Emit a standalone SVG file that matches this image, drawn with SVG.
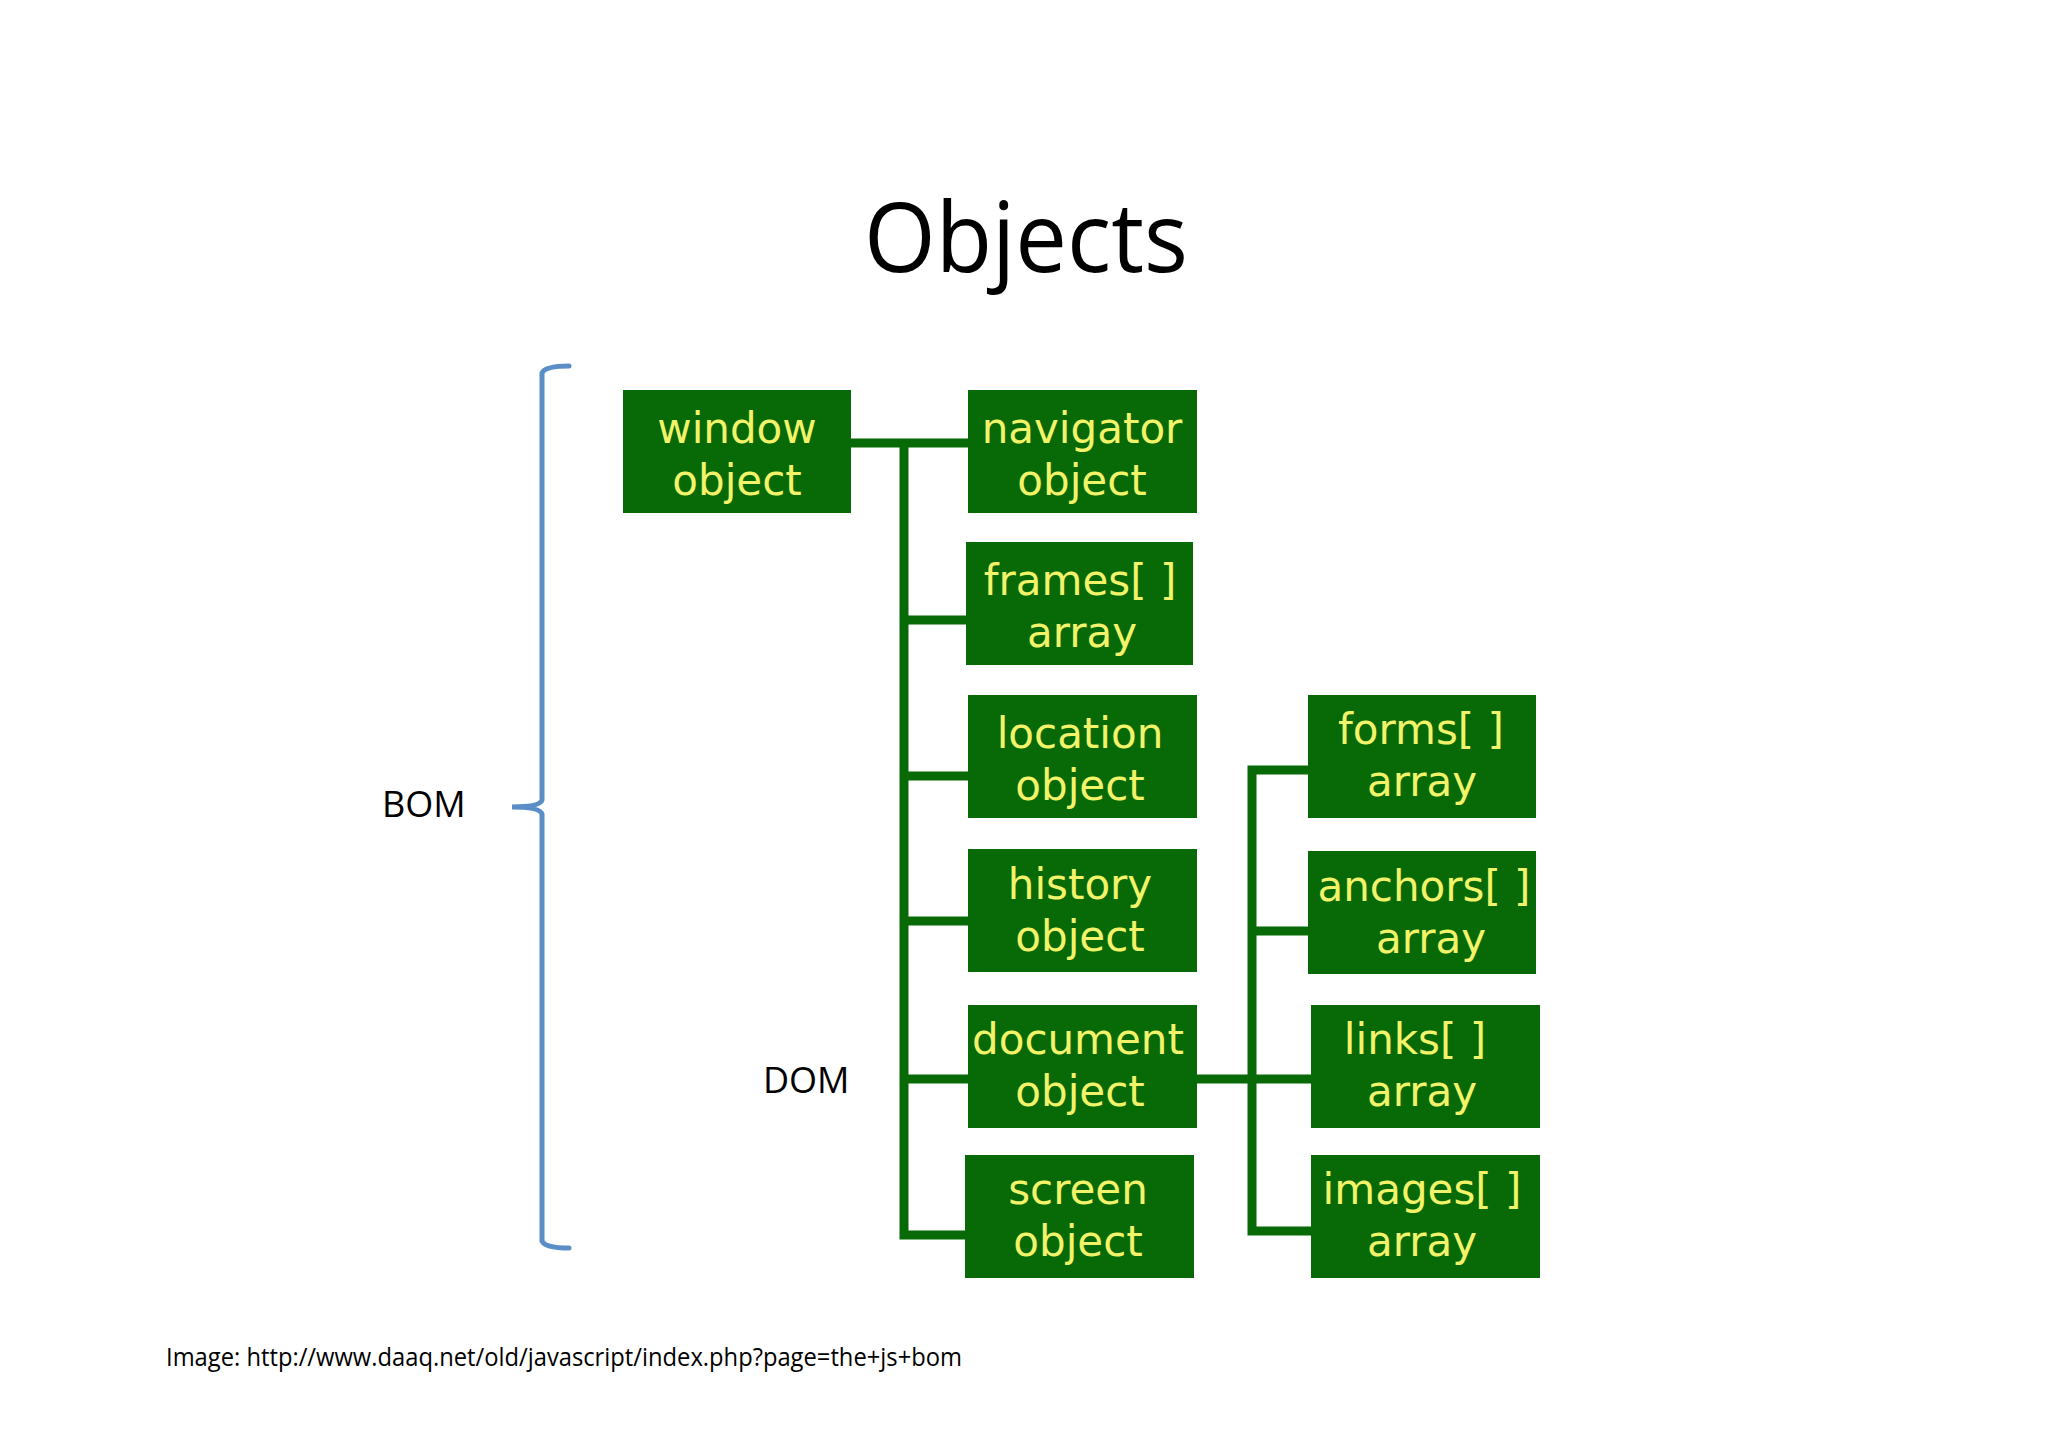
<svg xmlns="http://www.w3.org/2000/svg" width="2048" height="1447" viewBox="0 0 2048 1447">
<style>
.box{fill:#076a07;}
.bt{font-family:"DejaVu Sans",sans-serif;font-size:42px;fill:#f3f36a;text-anchor:middle;}
.lbl{font-family:"Open Sans","Liberation Sans",sans-serif;fill:#000;}
.conn{fill:none;stroke:#076a07;stroke-width:9;stroke-linejoin:miter;stroke-linecap:butt;}
</style>
<rect width="2048" height="1447" fill="#ffffff"/>
<text class="lbl" x="1026" y="272" font-size="97" text-anchor="middle" textLength="324" lengthAdjust="spacingAndGlyphs">Objects</text>
<g id="bracket">
<path d="M569 366 Q545 366 542 373 L542 800 Q540 807 512 807 Q540 807 542 814 L542 1241 Q545 1248 569 1248" fill="none" stroke="#5b8ec6" stroke-width="5" stroke-linecap="round"/>
</g>
<g id="label-bom"><text class="lbl" x="382" y="817" font-size="36">BOM</text></g>
<g id="label-dom"><text class="lbl" x="763" y="1093" font-size="36">DOM</text></g>
<g id="connectors">
<path class="conn" d="M851 443 H968"/>
<path class="conn" d="M904 443 V1235 H965"/>
<path class="conn" d="M904 620 H966"/>
<path class="conn" d="M904 776 H968"/>
<path class="conn" d="M904 921 H968"/>
<path class="conn" d="M904 1079 H968"/>
<path class="conn" d="M1308 770 H1252 V1231 H1311"/>
<path class="conn" d="M1252 931 H1308"/>
<path class="conn" d="M1197 1079 H1311"/>
</g>
<g id="window"><rect class="box" x="623" y="390" width="228" height="123"/><text class="bt" x="737" y="443">window</text><text class="bt" x="737" y="495">object</text></g>
<g id="navigator"><rect class="box" x="968" y="390" width="229" height="123"/><text class="bt" x="1082" y="443">navigator</text><text class="bt" x="1082" y="495">object</text></g>
<g id="frames"><rect class="box" x="966" y="542" width="227" height="123"/><text class="bt" x="1080" y="595">frames[ ]</text><text class="bt" x="1082" y="647">array</text></g>
<g id="location"><rect class="box" x="968" y="695" width="229" height="123"/><text class="bt" x="1080" y="748">location</text><text class="bt" x="1080" y="800">object</text></g>
<g id="history"><rect class="box" x="968" y="849" width="229" height="123"/><text class="bt" x="1080" y="899">history</text><text class="bt" x="1080" y="951">object</text></g>
<g id="document"><rect class="box" x="968" y="1005" width="229" height="123"/><text class="bt" x="1078" y="1054">document</text><text class="bt" x="1080" y="1106">object</text></g>
<g id="screen"><rect class="box" x="965" y="1155" width="229" height="123"/><text class="bt" x="1078" y="1204">screen</text><text class="bt" x="1078" y="1256">object</text></g>
<g id="forms"><rect class="box" x="1308" y="695" width="228" height="123"/><text class="bt" x="1421" y="744">forms[ ]</text><text class="bt" x="1422" y="796">array</text></g>
<g id="anchors"><rect class="box" x="1308" y="851" width="228" height="123"/><text class="bt" x="1424" y="901">anchors[ ]</text><text class="bt" x="1431" y="953">array</text></g>
<g id="links"><rect class="box" x="1311" y="1005" width="229" height="123"/><text class="bt" x="1415" y="1054">links[ ]</text><text class="bt" x="1422" y="1106">array</text></g>
<g id="images"><rect class="box" x="1311" y="1155" width="229" height="123"/><text class="bt" x="1422" y="1204">images[ ]</text><text class="bt" x="1422" y="1256">array</text></g>
<text class="lbl" x="166" y="1366" font-size="25" textLength="796" lengthAdjust="spacingAndGlyphs">Image: http://www.daaq.net/old/javascript/index.php?page=the+js+bom</text>
</svg>
